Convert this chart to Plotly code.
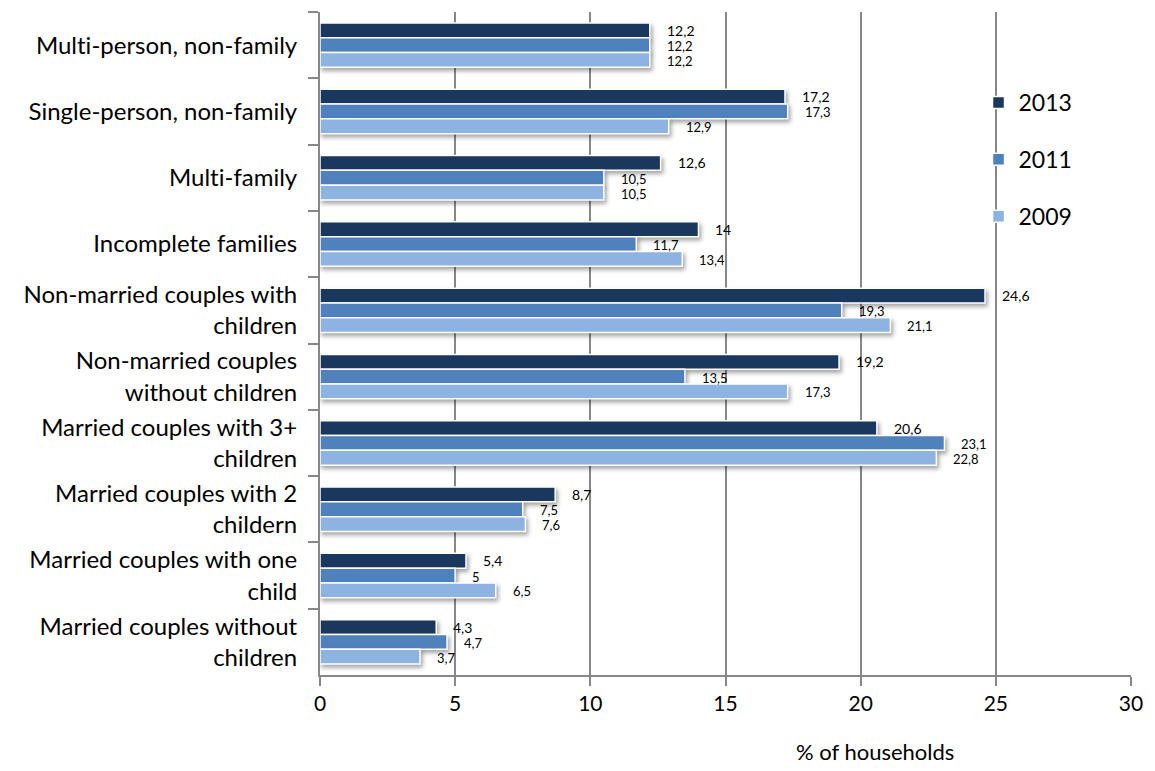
import plotly.graph_objects as go

categories = [
    "Multi-person, non-family",
    "Single-person, non-family",
    "Multi-family",
    "Incomplete families",
    "Non-married couples with<br>children",
    "Non-married couples<br>without children",
    "Married couples with 3+<br>children",
    "Married couples with 2<br>childern",
    "Married couples with one<br>child",
    "Married couples without<br>children",
]
share_2013 = [12.2, 17.2, 12.6, 14, 24.6, 19.2, 20.6, 8.7, 5.4, 4.3]
share_2011 = [12.2, 17.3, 10.5, 11.7, 19.3, 13.5, 23.1, 7.5, 5, 4.7]
share_2009 = [12.2, 12.9, 10.5, 13.4, 21.1, 17.3, 22.8, 7.6, 6.5, 3.7]
x_ticks = [0, 5, 10, 15, 20, 25, 30]

series = [
    ("2013", share_2013, "#1a375e", 14),
    ("2011", share_2011, "#4f81bd", 13),
    ("2009", share_2009, "#8db3e2", 13),
]

FONT = "Lato, Carlito, Calibri, sans-serif"
W, H = 1155, 771
M = dict(l=320, r=18, t=12, b=96)
BARGAP = 0.33
GRID = "#878787"

fig = go.Figure()
for name, vals, color, _ in series:
    fig.add_trace(go.Bar(
        name=name, y=categories, x=vals, orientation="h",
        marker=dict(color=color, line=dict(color="white", width=1.5)),
        legendgroup=name,
    ))

# value labels, placed just past the end of each bar
plot_h = H - M["t"] - M["b"]
band = plot_h / len(categories)
bar_w = band * (1 - BARGAP) / len(series)
for i, (name, vals, color, fs) in enumerate(series):
    dy = (i - 1) * bar_w
    for cat, v in zip(categories, vals):
        fig.add_annotation(
            x=v, y=cat, text=f"{v:g}".replace(".", ","),
            xanchor="left", yanchor="middle", xshift=15,
            yshift=-dy - (0 if i == 0 else 1),
            showarrow=False, font=dict(family=FONT, size=fs, color="#000"),
        )

fig.add_annotation(
    x=0.684, y=-0.116, xref="paper", yref="paper", text="% of households",
    showarrow=False, xanchor="center", yanchor="middle",
    font=dict(family=FONT, size=22, color="#000"),
)

fig.update_layout(
    width=W, height=H, margin=M,
    paper_bgcolor="white", plot_bgcolor="white",
    barmode="group", bargap=BARGAP, bargroupgap=0,
    font=dict(family=FONT, size=24, color="#000"),
    showlegend=True,
    legend=dict(x=0.812, y=0.896, xanchor="left", yanchor="top",
                font=dict(family=FONT, size=23), tracegroupgap=24,
                bgcolor="rgba(0,0,0,0)"),
    xaxis=dict(range=[0, 30], tickvals=x_ticks, showgrid=True,
               gridcolor=GRID, gridwidth=2, zeroline=False,
               showline=True, linecolor=GRID, linewidth=2,
               ticks="outside", ticklen=9, tickwidth=2, tickcolor=GRID,
               tickfont=dict(size=21), fixedrange=True),
    yaxis=dict(autorange="reversed", showline=True, linecolor=GRID,
               linewidth=2, ticks="outside", tickson="boundaries",
               ticklen=10, tickwidth=2, tickcolor=GRID,
               ticklabelstandoff=16, showgrid=False,
               tickfont=dict(size=24)),
)

post_js = """
document.querySelectorAll('.barlayer .point path').forEach(function(p){
  p.style.filter = 'drop-shadow(2px 3px 2px rgba(0,0,0,0.35))';
});
document.querySelectorAll('svg text').forEach(function(t){
  t.style.fontVariantLigatures = 'none';
});
"""
fig.write_html("out.html", post_script=post_js)
